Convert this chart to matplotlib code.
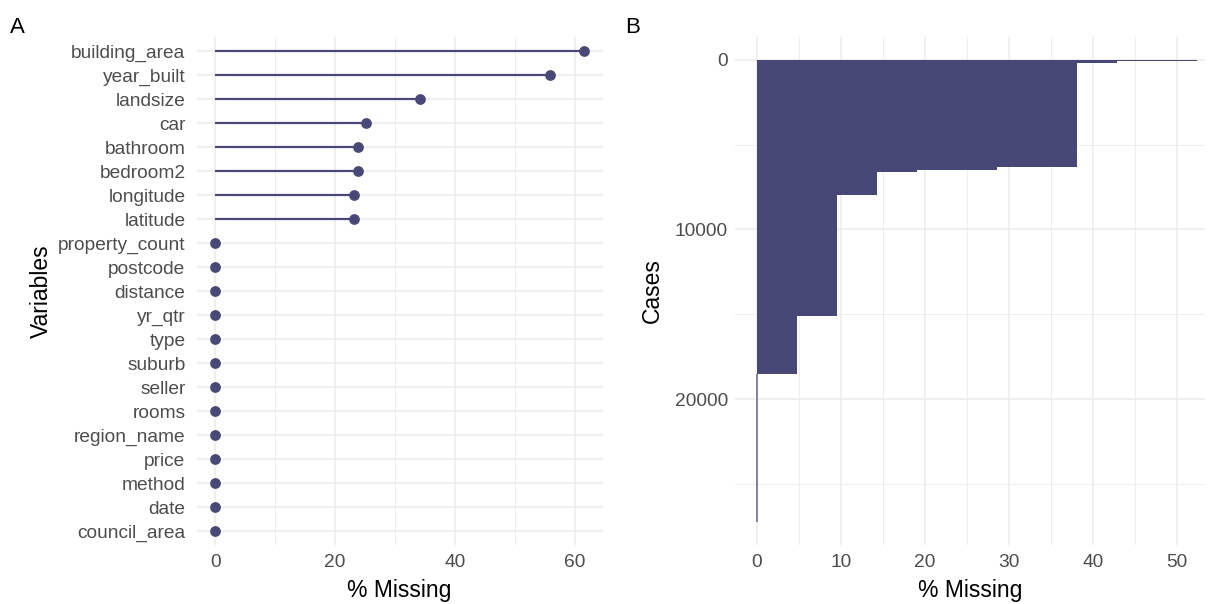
import numpy as np
import matplotlib
matplotlib.use("Agg")
import matplotlib.pyplot as plt

plt.rcParams['font.family'] = ['Liberation Sans', 'DejaVu Sans']

# Panel A: % missing per variable (top to bottom)
variables = ['building_area', 'year_built', 'landsize', 'car', 'bathroom',
             'bedroom2', 'longitude', 'latitude', 'property_count', 'postcode',
             'distance', 'yr_qtr', 'type', 'suburb', 'seller', 'rooms',
             'region_name', 'price', 'method', 'date', 'council_area']
pct_missing = [61.5, 55.8, 34.1, 25.2, 23.8, 23.8, 23.1, 23.1, 0, 0,
               0, 0, 0, 0, 0, 0, 0, 0, 0, 0, 0]

# Panel B: cases sorted by % missing (step ends on the case axis)
case_ends = [50, 200, 6300, 6500, 6600, 7950, 15100, 18500, 27247]
case_pct = [52.38, 42.86, 38.10, 28.57, 19.05, 14.29, 9.52, 4.76, 0.0]

COLOR = '#484877'
GRID = '#EBEBEB'
TXT = '#4D4D4D'
TICK_FS = 13.8
TITLE_FS = 16.5

fig = plt.figure(figsize=(12.14, 6.04), dpi=100)
axA = fig.add_axes([0.162, 0.097, 0.3344, 0.8424])
axB = fig.add_axes([0.6054, 0.097, 0.387, 0.8424])


def style(ax):
    for s in ax.spines.values():
        s.set_visible(False)
    ax.tick_params(length=0, labelsize=TICK_FS, labelcolor=TXT)
    ax.set_axisbelow(True)


# ---- A: lollipop ----
style(axA)
ypos = np.arange(len(variables))
axA.hlines(ypos, 0, pct_missing, color=COLOR, lw=1.6, zorder=3)
axA.scatter(pct_missing, ypos, s=45, color=COLOR, zorder=4)
axA.set_yticks(ypos)
axA.set_yticklabels(variables)
axA.set_xticks([0, 20, 40, 60])
axA.set_xticks([10, 30, 50], minor=True)
axA.set_xlim(-3.07, 64.6)
axA.set_ylim(len(variables) - 0.4, -0.6)
axA.grid(True, which='major', color=GRID, lw=1.1)
axA.grid(True, which='minor', axis='x', color=GRID, lw=0.6)
axA.tick_params(axis='y', pad=8)
axA.tick_params(axis='x', pad=6)
axA.tick_params(which='minor', length=0)
axA.set_xlabel('% Missing', fontsize=TITLE_FS, labelpad=6)
axA.set_ylabel('Variables', fontsize=TITLE_FS, labelpad=4)

# ---- B: missing by case ----
style(axB)
starts = [0] + case_ends[:-1]
for y0, y1, p in zip(starts, case_ends, case_pct):
    axB.fill_betweenx([y0, y1], 0, p, color=COLOR, lw=0, zorder=3)
axB.vlines(0, starts[-1], case_ends[-1], color=COLOR, lw=1.2, alpha=0.75, zorder=3)
axB.set_xlim(-2.6, 53.3)
axB.set_ylim(28609, -1362)
axB.set_xticks([0, 10, 20, 30, 40, 50])
axB.set_xticks([5, 15, 25, 35, 45], minor=True)
axB.set_yticks([0, 10000, 20000])
axB.set_yticks([5000, 15000, 25000], minor=True)
axB.grid(True, which='major', color=GRID, lw=1.1)
axB.grid(True, which='minor', color=GRID, lw=0.6)
axB.tick_params(which='minor', length=0)
axB.tick_params(axis='y', pad=5)
axB.tick_params(axis='x', pad=6)
axB.set_xlabel('% Missing', fontsize=TITLE_FS, labelpad=6)
axB.set_ylabel('Cases', fontsize=TITLE_FS, labelpad=8)

fig.text(0.008, 0.954, 'A', fontsize=16, va='center', ha='left')
fig.text(0.515, 0.954, 'B', fontsize=16, va='center', ha='left')

fig.savefig('out.png', dpi=100)
